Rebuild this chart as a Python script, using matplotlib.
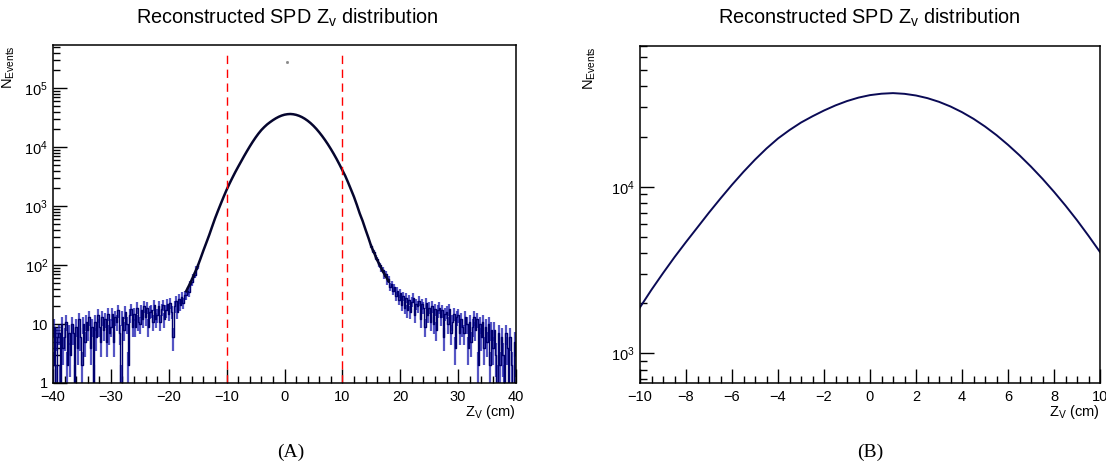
import numpy as np
import matplotlib.pyplot as plt
from matplotlib.ticker import MultipleLocator, LogLocator, NullFormatter, FuncFormatter

plt.rcParams['font.family'] = ['Liberation Sans', 'DejaVu Sans']
plt.rcParams['mathtext.fontset'] = 'custom'
plt.rcParams['mathtext.rm'] = 'Liberation Sans'
plt.rcParams['mathtext.it'] = 'Liberation Sans:italic'

# Smooth core of the Zv histogram (0.5 cm steps from -17 to 18 cm)
core_n = [36, 45, 57, 74, 96, 130, 178, 240, 325, 450,
          620, 830, 1100, 1450, 1890, 2410, 3030, 3780, 4660, 5710,
          7000, 8510, 10280, 12300, 14550, 16980, 19500, 21900, 24300, 26500,
          28700, 30800, 32700, 34300, 35500, 36200, 36500, 36140, 35320, 34040,
          32360, 30340, 28050, 25590, 23010, 20420, 17860, 15450, 13210, 11170,
          9330, 7710, 6300, 5080, 4060, 3250, 2500, 1900, 1440, 1050,
          750, 560, 400, 290, 206, 160, 122, 98, 78, 64, 53]
core_z = np.linspace(-17, 18, len(core_n))

# Noisy tails (0.25 cm bins), left: -40 .. -15 cm, right: 15 .. 40 cm
left_tail_n = [2, 9, 1, 6, 7, 1, 10, 4, 6, 11, 2, 7, 3, 10, 7, 1,
               9, 4, 12, 6, 2, 10, 5, 11, 8, 13, 4, 9, 1, 11, 6, 14,
               9, 5, 13, 8, 12, 5, 15, 7, 9, 15, 5, 13, 11, 17, 7, 1,
               13, 8, 16, 10, 2, 14, 18, 9, 15, 9, 19, 11, 10, 17, 12, 20,
               13, 19, 9, 16, 17, 11, 21, 12, 14, 20, 11, 18, 21, 12, 17, 22,
               15, 23, 16, 6, 20, 25, 16, 27, 21, 29, 23, 31, 31, 37, 35, 47,
               52, 63, 68, 87, 96]
right_tail_n = [210, 172, 165, 134, 128, 104, 99, 84, 82, 66, 70, 54, 58, 43, 47, 37,
                42, 30, 37, 26, 33, 21, 30, 19, 28, 17, 26, 16, 24, 28, 14, 22,
                20, 25, 12, 22, 19, 9, 23, 14, 19, 11, 20, 10, 18, 8, 17, 19,
                13, 17, 6, 15, 16, 10, 18, 7, 11, 15, 4, 13, 14, 7, 12, 9,
                7, 13, 10, 4, 11, 5, 9, 13, 8, 12, 2, 10, 6, 11, 4, 9,
                5, 10, 2, 8, 4, 8, 3, 1, 7, 2, 6, 3, 1, 7, 4, 0,
                6, 2, 0, 5, 3]
left_tail_z = np.linspace(-40, -15, len(left_tail_n))
right_tail_z = np.linspace(15, 40, len(right_tail_n))

# Vertex cut lines and a stray point near the top of panel A
cut_z = [-10, 10]
stray_z = [0.4]
stray_n = [2.8e5]

TITLE = r"Reconstructed SPD Z$_{\mathregular{v}}$ distribution"
XLABEL = r"Z$_{\mathregular{V}}$ (cm)"
YLABEL = r"N$_{\mathregular{Events}}$"
NAVY = "#00006e"
FUZZ = "#1c1cb0"
CORE = "#05052e"


def log_label(v, pos):
    if v == 1:
        return "1"
    if v == 10:
        return "10"
    return r"$\mathregular{10^{%d}}$" % round(np.log10(v))


def style_axes(ax, xmajor, xminor):
    ax.set_yscale("log")
    ax.xaxis.set_major_locator(MultipleLocator(xmajor))
    ax.xaxis.set_minor_locator(MultipleLocator(xminor))
    ax.yaxis.set_major_locator(LogLocator(base=10, numticks=20))
    ax.yaxis.set_minor_locator(LogLocator(base=10, subs=np.arange(2, 10), numticks=20))
    ax.yaxis.set_major_formatter(FuncFormatter(log_label))
    ax.yaxis.set_minor_formatter(NullFormatter())
    ax.tick_params(which="both", direction="in", top=False, right=False, labelsize=10.5, width=1)
    ax.tick_params(which="major", length=10)
    ax.tick_params(which="minor", length=5)
    ax.tick_params(axis="x", which="major", pad=5)
    for s in ax.spines.values():
        s.set_linewidth(1.1)
    ax.set_xlabel(XLABEL, loc="right", fontsize=10.5, labelpad=-1)


fig = plt.figure(figsize=(11.06, 4.68), dpi=100)
ax1 = fig.add_axes([53 / 1106, 85 / 468, 463 / 1106, 338 / 468])
ax2 = fig.add_axes([640 / 1106, 85 / 468, 460 / 1106, 337 / 468])

# Panel A: full range with noisy tails
for z, n in [(left_tail_z, left_tail_n), (right_tail_z, right_tail_n)]:
    n = np.array(n, dtype=float)
    err = np.sqrt(n)
    ax1.vlines(z, np.maximum(n - err, 0.5), n + err, color=FUZZ, lw=1.6, alpha=0.75)
    ax1.plot(z, np.where(n > 0, n, 0.5), drawstyle="steps-mid", color=NAVY, lw=1.0)
ax1.plot(core_z, core_n, color=CORE, lw=1.8)
ax1.vlines(cut_z, 1, 3.6e5, colors="#ff0000", linestyles=(0, (6, 4)), lw=1)
ax1.plot(stray_z, stray_n, "s", color="#888888", ms=1)
ax1.set_xlim(-40, 40)
ax1.set_ylim(1, 5.4e5)
style_axes(ax1, 10, 2)

# Panel B: zoom on the core
ax2.plot(core_z, core_n, color="#0a0a55", lw=1.4)
ax2.set_xlim(-10, 10)
ax2.set_ylim(664, 7.0e4)
style_axes(ax2, 2, 0.5)

for ax, xlab in [(ax1, -0.078), (ax2, -0.091)]:
    ax.set_ylabel(YLABEL, loc="top", fontsize=10.5)
    ax.yaxis.set_label_coords(xlab, 1.0)

fig.text(287 / 1106, 1 - 18 / 468, TITLE, ha="center", va="center", fontsize=14.3)
fig.text(869 / 1106, 1 - 18 / 468, TITLE, ha="center", va="center", fontsize=14.3)
fig.text(291 / 1106, 1 - 452 / 468, "(A)", ha="center", va="center", fontsize=14, family="Liberation Serif")
fig.text(870 / 1106, 1 - 452 / 468, "(B)", ha="center", va="center", fontsize=14, family="Liberation Serif")

fig.savefig("out.png", dpi=100)
